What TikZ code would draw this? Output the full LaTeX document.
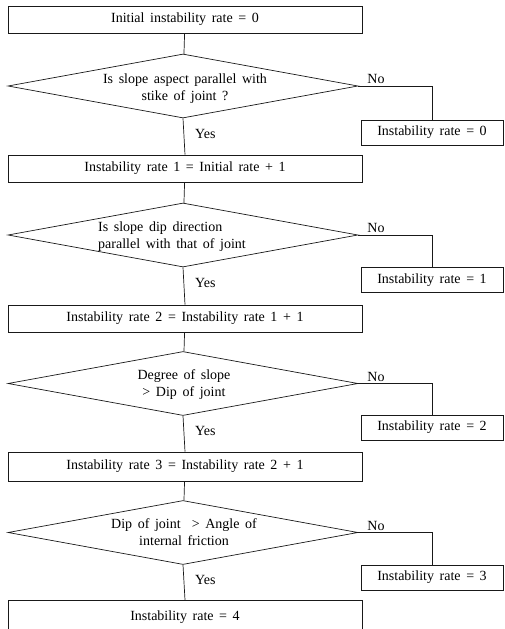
\documentclass[tikz,border=0pt]{standalone}
\usepackage{fontspec}
\setmainfont{Liberation Serif}[WordSpace=1.6]
\usetikzlibrary{shapes.geometric}
\begin{document}
\begin{tikzpicture}[x=1pt,y=-1pt,
  every node/.style={font=\fontsize{14}{17}\selectfont},
  line/.style={draw=black!90, line width=0.7pt},
  procbox/.style={line, rectangle, minimum width=354pt, inner sep=0pt},
  resbox/.style={line, rectangle, minimum width=142pt, minimum height=25pt, inner sep=0pt},
  decbox/.style={line, diamond, minimum width=350pt, minimum height=64pt, inner sep=0pt},
  txt/.style={inner sep=0pt, align=center},
  lbl/.style={inner sep=0pt}
]
\useasboundingbox (0,0) rectangle (504,629);

% main boxes
\node[procbox, minimum height=27pt] (b0) at (185,19.5) {Initial instability rate = 0};
\node[decbox] (d1) at (183,86) {};
\node[txt] (t1) at (185,89) {Is slope aspect parallel with\\stike of joint ?};
\node[resbox] (r1) at (432,132.5) {Instability rate = 0};
\node[procbox, minimum height=27pt] (b1) at (185,168.5) {Instability rate 1 = Initial rate + 1};

\node[decbox] (d2) at (183,235) {};
\node[txt, align=left, anchor=west] (t2) at (98,237) {Is slope dip direction\\parallel with that of joint};
\node[resbox] (r2) at (432,280) {Instability rate = 1};
\node[procbox, minimum height=27pt] (b2) at (185,318.5) {Instability rate 2 = Instability rate 1 + 1};

\node[decbox] (d3) at (183,383.5) {};
\node[txt] (t3) at (184,385) {Degree of slope\\> Dip of joint};
\node[resbox] (r3) at (432,427.5) {Instability rate = 2};
\node[procbox, minimum height=29pt] (b3) at (185,466.5) {Instability rate 3 = Instability rate 2 + 1};

\node[decbox] (d4) at (183,532.5) {};
\node[txt] (t4) at (184,532) {Dip of joint \ > Angle of\\internal friction};
\node[resbox] (r4) at (432,577.5) {Instability rate = 3};
\node[procbox, minimum height=60pt, anchor=north] (b4) at (185,600) {};
\node[txt] (t5) at (185,617) {Instability rate = 4};

% connectors
\draw[line] (b0) -- (d1);
\draw[line] (d1.south) -- node[lbl, pos=0.42, anchor=west, xshift=11pt] {Yes} (b1.north);
\draw[line] (d1.east) -| node[lbl, pos=0.12, anchor=south, yshift=2pt] {No} (r1.north);

\draw[line] (b1) -- (d2);
\draw[line] (d2.south) -- node[lbl, pos=0.42, anchor=west, xshift=11pt] {Yes} (b2.north);
\draw[line] (d2.east) -| node[lbl, pos=0.12, anchor=south, yshift=2pt] {No} (r2.north);

\draw[line] (b2) -- (d3);
\draw[line] (d3.south) -- node[lbl, pos=0.42, anchor=west, xshift=11pt] {Yes} (b3.north);
\draw[line] (d3.east) -| node[lbl, pos=0.12, anchor=south, yshift=2pt] {No} (r3.north);

\draw[line] (b3) -- (d4);
\draw[line] (d4.south) -- node[lbl, pos=0.42, anchor=west, xshift=11pt] {Yes} (b4.north);
\draw[line] (d4.east) -| node[lbl, pos=0.12, anchor=south, yshift=2pt] {No} (r4.north);
\end{tikzpicture}
\end{document}
